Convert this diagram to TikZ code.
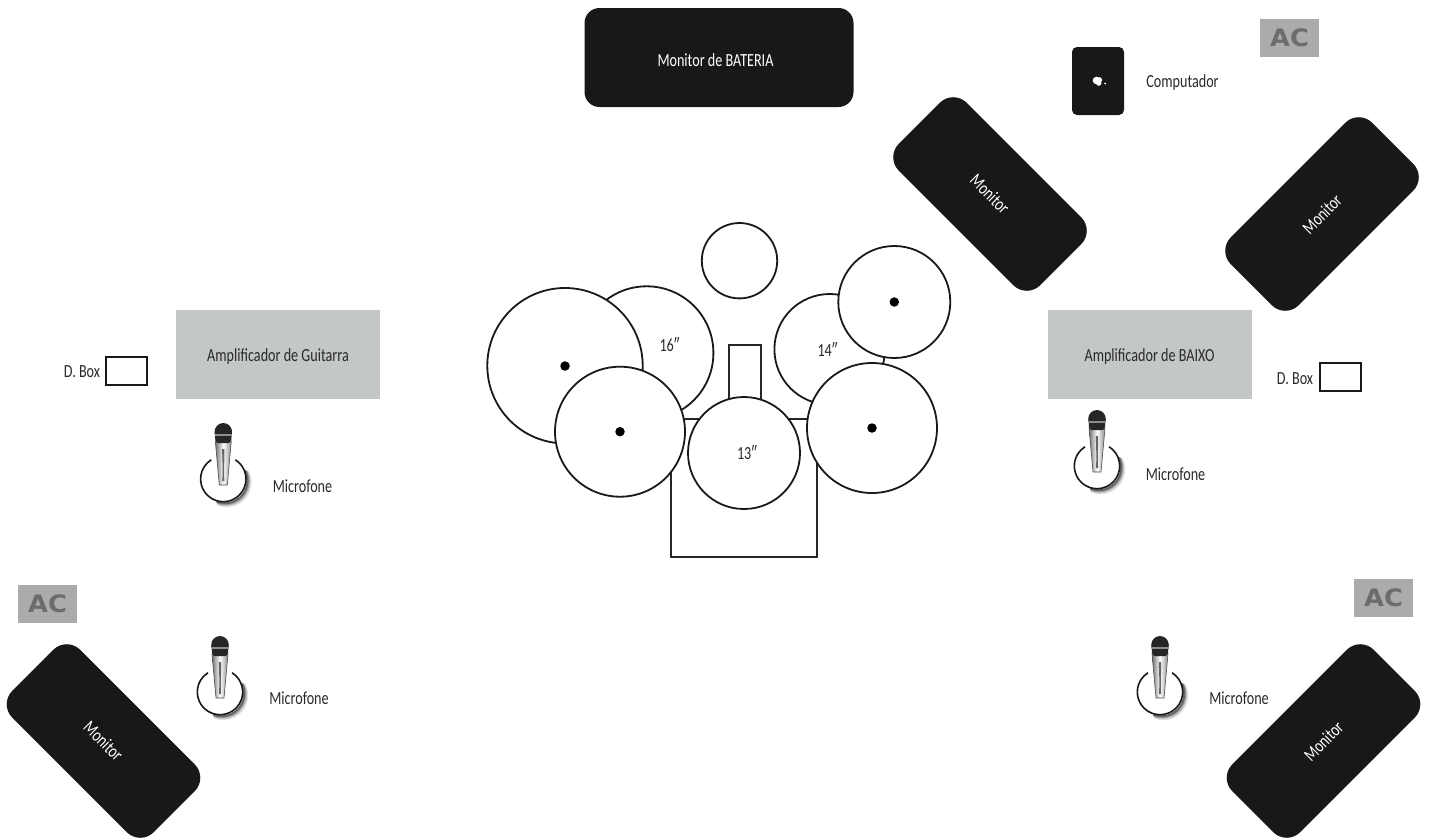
\documentclass[tikz,border=0pt]{standalone}
\usepackage{fontspec}
\setmainfont{Carlito}[FakeStretch=0.765]
\newfontfamily\acfont{DejaVu Sans}[FakeStretch=1.07]
\usetikzlibrary{shapes.geometric}
\definecolor{ampgrey}{HTML}{C3C8C4}
\definecolor{acgrey}{HTML}{ABABAB}
\definecolor{actext}{HTML}{6C6C6C}
\definecolor{blackbox}{HTML}{18171A}
\definecolor{labelink}{HTML}{2A2A2A}
\newcommand{\lsize}{\fontsize{18.5}{20}\selectfont}
\tikzset{
  lbl/.style={font=\lsize,text=labelink,inner sep=0pt},
  whitelbl/.style={font=\lsize,text=white,inner sep=0pt},
  monitorbox/.style={draw=none,fill=blackbox,rounded corners=19pt,minimum width=200pt,minimum height=96pt,inner sep=0pt,text=white,font=\lsize},
  ampbox/.style={draw=none,fill=ampgrey,minimum width=204pt,minimum height=89pt,inner sep=0pt},
  acbox/.style={draw=none,fill=acgrey,minimum width=59pt,minimum height=38pt,inner sep=0pt,text=actext,font=\acfont\bfseries\fontsize{24}{26}\selectfont},
  dboxrect/.style={draw=black!90,line width=1.7pt,fill=white,minimum width=41pt,minimum height=28pt,inner sep=0pt},
  drum/.style={circle,draw=black!90,line width=1.8pt,fill=white,inner sep=0pt},
  dotmark/.style={circle,fill=black,minimum size=9.5pt,inner sep=0pt},
  shell/.style={draw=black!85,line width=1.8pt,fill=white},
  mic/.pic={
    % soft shadow, lower right (y axis points down here)
    \foreach \o/\w/\s in {3.4/4.4/10,2.8/3.6/20,2.2/2.8/38,1.6/2/60}{
      \draw[line width=\w pt,black!\s,line cap=round] (\o,\o) ++(-25:22.7) arc[start angle=-25,end angle=110,radius=22.7];
    }
    \fill[white] (0,0) circle[radius=22.7];
    \draw[line width=1.6pt,black!90] (-58:22.7) arc[start angle=-58,end angle=238,radius=22.7];
    % handle
    \path[shade,left color=black!55,right color=black!45,middle color=white,draw=black!70,line width=.6pt]
      (-8,-38) -- (8,-38) -- (4,6) -- (-4,6) -- cycle;
    \fill[black!60] (-1.2,-30) -- (1.2,-30) -- (.8,-8) -- (1,2) -- (-.9,2) -- (-.6,-10) -- cycle;
    % head
    \fill[black!85] (-8.5,-47) -- (8.5,-47) -- (8,-39) -- (6,-36) -- (-6,-36) -- (-8,-39) -- cycle;
    \fill[black!85] (0,-47) ellipse[x radius=8.8,y radius=9];
    \fill[black!45] (-8.5,-45.5) rectangle (8.5,-43.5);
  },
}
\begin{document}
\begin{tikzpicture}[x=1pt,y=-1pt]
\useasboundingbox[fill=white] (0,0) rectangle (1435,839);

% top monitor
\node[draw=none,fill=blackbox,rounded corners=15pt,minimum width=269pt,minimum height=99pt,inner sep=0pt] (batmon) at (719,57.5) {};
\node[whitelbl] (batlbl) at (715.5,60) {Monitor de BATERIA};

% angled monitors
\node[monitorbox,rotate=-45] (montl) at (990,194) {Monitor};
\node[monitorbox,rotate=45]  (montr) at (1322,214) {Monitor};
\node[monitorbox,rotate=-45] (monbl) at (103.5,741) {Monitor};
\node[monitorbox,rotate=45]  (monbr) at (1323.5,741) {Monitor};

% computer
\node[draw=none,fill=blackbox,rounded corners=5pt,minimum width=52pt,minimum height=68pt,inner sep=0pt] (comp) at (1098,81) {};
\fill[white] (comp.center) ++(-1.5,-.5) circle[radius=3.8] ++(2.8,-.5) circle[radius=2.8] ++(-.5,3.2) circle[radius=2.6];
\fill[white] (1105,83.5) circle[radius=1];
\node[lbl] (complbl) at (1182.5,83) {Computador};

% AC boxes
\node[acbox] (ac1) at (1289.5,38) {AC};
\node[acbox] (ac2) at (47.5,604) {AC};
\node[acbox] (ac3) at (1383.5,598) {AC};

% amps
\node[ampbox] (ampg) at (278,354.5) {};
\node[lbl] (ampglbl) at (278,357) {Amplificador de Guitarra};
\node[ampbox] (ampb) at (1150,354.5) {};
\node[lbl] (ampblbl) at (1149.5,357) {Amplificador de BAIXO};

% D. Box
\node[dboxrect] (dbox1) at (126.5,371) {};
\node[lbl] (dboxl1) at (82,372) {D. Box};
\node[dboxrect] (dbox2) at (1340.5,377) {};
\node[lbl] (dboxl2) at (1295,379) {D. Box};

% mics
\pic at (223.3,479) {mic};
\node[lbl] (micl1) at (302.5,486) {Microfone};
\pic at (1097,466) {mic};
\node[lbl] (micl2) at (1175.5,474) {Microfone};
\pic at (220,692) {mic};
\node[lbl] (micl3) at (299,698) {Microfone};
\pic at (1160,692) {mic};
\node[lbl] (micl4) at (1239,698) {Microfone};

% drum kit
\node[shell,minimum width=146.6pt,minimum height=137.4pt,inner sep=0pt] (kick) at (744,488) {};
\node[shell,minimum width=31.4pt,minimum height=70pt,inner sep=0pt] (neck) at (745,380) {};
\node[drum,minimum size=75.4pt] (hat) at (739.5,260.7) {};
\node[drum,minimum size=133.4pt] (tom16) at (646.7,353) {};
\node[lbl] (t16) at (669.5,344.5) {16″};
\node[drum,minimum size=110.6pt] (tom14) at (829.7,349.3) {};
\node[lbl] (t14) at (827.5,349.5) {14″};
\node[drum,minimum size=155.4pt] (cymbig) at (565,365.7) {};
\node[dotmark] (d1) at (565,366) {};
\node[drum,minimum size=112pt] (cymtr) at (894.3,302) {};
\node[dotmark] (d2) at (894.3,302) {};
\node[drum,minimum size=130pt] (cymfl) at (620,431.7) {};
\node[dotmark] (d3) at (620,431.7) {};
\node[drum,minimum size=130pt] (cymfr) at (872,428) {};
\node[dotmark] (d4) at (872,428) {};
\node[drum,minimum size=112pt] (snare) at (744,453) {};
\node[lbl] (t13) at (747,453) {13″};
\end{tikzpicture}
\end{document}
